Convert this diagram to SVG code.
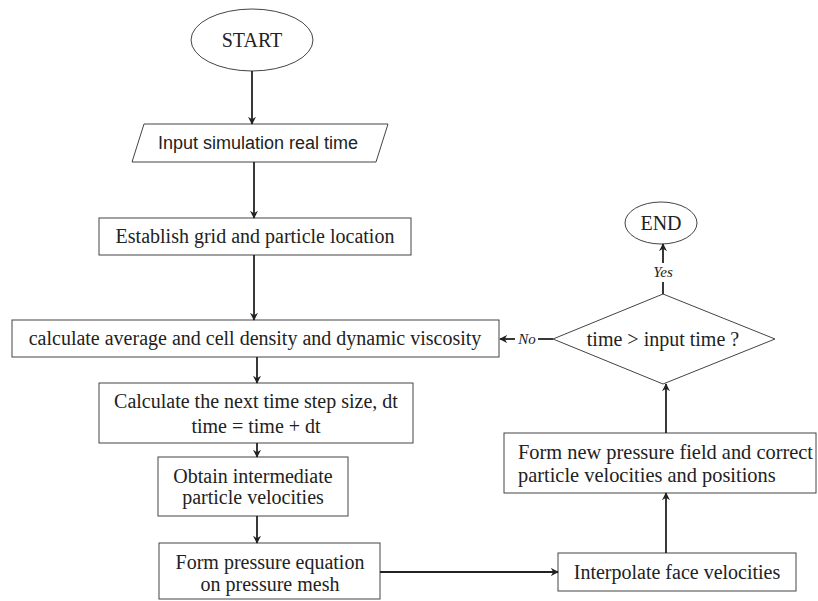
<svg xmlns="http://www.w3.org/2000/svg" width="818" height="601" viewBox="0 0 818 601">
<defs>
<marker id="ah" viewBox="0 0 10 10" refX="9" refY="5" markerWidth="8" markerHeight="8" markerUnits="userSpaceOnUse" orient="auto">
<path d="M0,0 L10,5 L0,10 L3,5 z" fill="#222"/>
</marker>
<style>
.shape{fill:#fff;stroke:#444;stroke-width:1}
.t{font-family:"Liberation Serif","Times New Roman",serif;font-size:20px;fill:#222;text-anchor:middle}
.ts{font-family:"Liberation Sans",Arial,sans-serif;font-size:18px;fill:#222;text-anchor:middle}
.lbl{font-family:"Liberation Serif","Times New Roman",serif;font-size:15px;font-style:italic;fill:#222;text-anchor:middle}
.c{stroke:#222;stroke-width:1.8;fill:none}
.ca{stroke:#222;stroke-width:1.8;fill:none;marker-end:url(#ah)}
</style>
</defs>
<rect width="818" height="601" fill="#fff"/>
<g id="start">
<ellipse class="shape" cx="252" cy="40" rx="61" ry="31"/>
<text class="t" x="252" y="47">START</text>
</g>
<g id="input">
<polygon class="shape" points="144,124 388,124 376,162 132,162"/>
<text class="ts" x="258" y="149">Input simulation real time</text>
</g>
<g id="establish">
<rect class="shape" x="99" y="218" width="312" height="37"/>
<text class="t" x="255" y="243">Establish grid and particle location</text>
</g>
<g id="calcavg">
<rect class="shape" x="12" y="320" width="487" height="37"/>
<text class="t" x="255" y="345">calculate average and cell density and dynamic viscosity</text>
</g>
<g id="nextstep">
<rect class="shape" x="99" y="383" width="314" height="60"/>
<text class="t" x="256" y="408">Calculate the next time step size, dt</text>
<text class="t" x="256" y="433">time = time + dt</text>
</g>
<g id="obtain">
<rect class="shape" x="158" y="457" width="190" height="59"/>
<text class="t" x="253" y="483">Obtain intermediate</text>
<text class="t" x="253" y="504">particle velocities</text>
</g>
<g id="formpressure">
<rect class="shape" x="159" y="543" width="221" height="56"/>
<text class="t" x="270" y="569">Form pressure equation</text>
<text class="t" x="270" y="591">on pressure mesh</text>
</g>
<g id="interp">
<rect class="shape" x="558" y="553" width="238" height="38"/>
<text class="t" x="677" y="579">Interpolate face velocities</text>
</g>
<g id="formnew">
<rect class="shape" x="504" y="433" width="312" height="60"/>
<text class="t" x="518" y="459" style="text-anchor:start;font-size:20.4px">Form new pressure field and correct</text>
<text class="t" x="518" y="482" style="text-anchor:start;font-size:20.4px">particle velocities and positions</text>
</g>
<g id="decision">
<polygon class="shape" points="663,294 775,339 663,384 553,339"/>
<text class="t" x="663" y="346">time &gt; input time ?</text>
</g>
<g id="end">
<ellipse class="shape" cx="661" cy="223" rx="36" ry="21"/>
<text class="t" x="661" y="230">END</text>
</g>
<g id="connectors">
<line class="ca" x1="252" y1="71" x2="252" y2="124"/>
<line class="ca" x1="254" y1="162" x2="254" y2="218"/>
<line class="ca" x1="254" y1="255" x2="254" y2="320"/>
<line class="ca" x1="257" y1="357" x2="257" y2="383"/>
<line class="ca" x1="257" y1="443" x2="257" y2="457"/>
<line class="ca" x1="257" y1="516" x2="257" y2="543"/>
<line class="ca" x1="380" y1="572" x2="558" y2="572"/>
<line class="ca" x1="666" y1="553" x2="666" y2="493"/>
<line class="ca" x1="666" y1="433" x2="666" y2="384"/>
<line class="c" x1="663" y1="294" x2="663" y2="282"/>
<text class="lbl" x="663" y="277">Yes</text>
<line class="ca" x1="663" y1="263" x2="663" y2="244"/>
<line class="c" x1="553" y1="339" x2="538" y2="339"/>
<text class="lbl" x="527" y="344">No</text>
<line class="ca" x1="515" y1="339" x2="500" y2="339"/>
</g>
</svg>
